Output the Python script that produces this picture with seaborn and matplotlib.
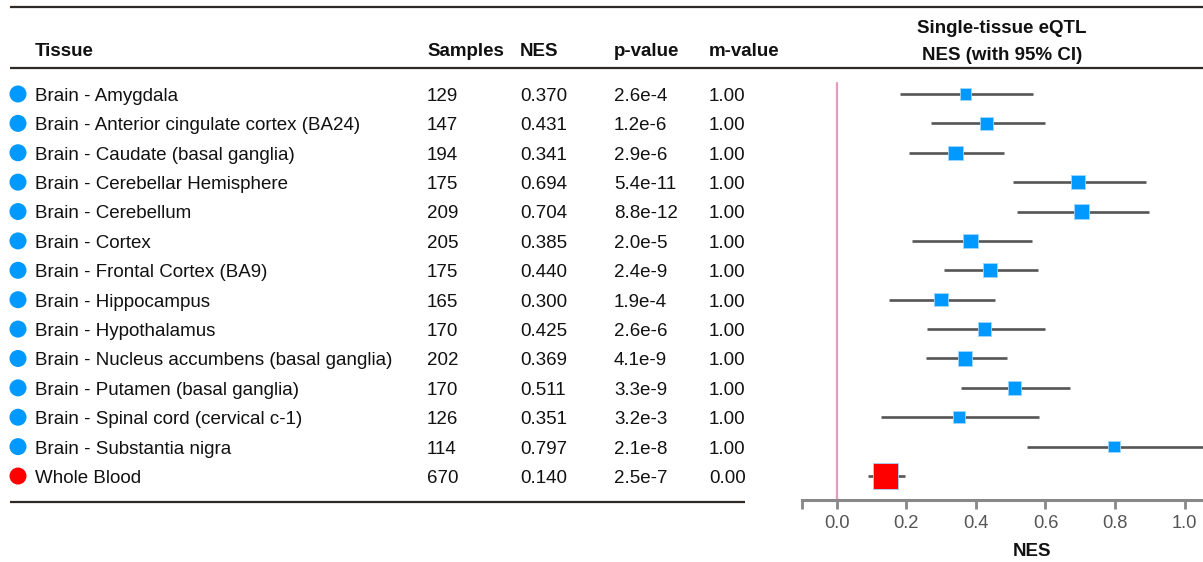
import pandas as pd
import seaborn as sns
import matplotlib.pyplot as plt

tissues = [
    "Brain - Amygdala",
    "Brain - Anterior cingulate cortex (BA24)",
    "Brain - Caudate (basal ganglia)",
    "Brain - Cerebellar Hemisphere",
    "Brain - Cerebellum",
    "Brain - Cortex",
    "Brain - Frontal Cortex (BA9)",
    "Brain - Hippocampus",
    "Brain - Hypothalamus",
    "Brain - Nucleus accumbens (basal ganglia)",
    "Brain - Putamen (basal ganglia)",
    "Brain - Spinal cord (cervical c-1)",
    "Brain - Substantia nigra",
    "Whole Blood",
]
samples = [129, 147, 194, 175, 209, 205, 175, 165, 170, 202, 170, 126, 114, 670]
nes = [0.370, 0.431, 0.341, 0.694, 0.704, 0.385, 0.440, 0.300, 0.425, 0.369, 0.511, 0.351, 0.797, 0.140]
pvals = ["2.6e-4", "1.2e-6", "2.9e-6", "5.4e-11", "8.8e-12", "2.0e-5", "2.4e-9",
         "1.9e-4", "2.6e-6", "4.1e-9", "3.3e-9", "3.2e-3", "2.1e-8", "2.5e-7"]
mvals = [1.00] * 13 + [0.00]
ci_lo = [0.181, 0.270, 0.208, 0.507, 0.519, 0.216, 0.309, 0.150, 0.260, 0.257, 0.357, 0.127, 0.547, 0.091]
ci_hi = [0.565, 0.600, 0.482, 0.888, 0.897, 0.560, 0.579, 0.456, 0.598, 0.489, 0.672, 0.582, 1.060, 0.196]
groups = ["Brain"] * 13 + ["Blood"]
xticks = [0.0, 0.2, 0.4, 0.6, 0.8, 1.0]

palette = {"Brain": "#0099FF", "Blood": "#FF0000"}

df = pd.DataFrame({
    "tissue": tissues, "samples": samples, "nes": nes, "p": pvals, "m": mvals,
    "lo": ci_lo, "hi": ci_hi, "group": groups,
})
df["row"] = range(len(df))

sns.set_style("white")
plt.rcParams["font.family"] = ["Liberation Sans", "DejaVu Sans"]
plt.rcParams["text.color"] = "#111111"

W, H = 1203, 562
fig = plt.figure(figsize=(W / 100, H / 100), dpi=100)

# pixel-space overlay for rules and headers
over = fig.add_axes([0, 0, 1, 1])
over.set_xlim(0, W)
over.set_ylim(H, 0)
over.axis("off")
over.set_facecolor("none")
rule = "#2d2926"
over.hlines([7, 68], 10, W, color=rule, lw=1.6)
over.hlines(502, 10, 745, color=rule, lw=1.6)
fs = 13.5
for x, lab in [(35, "Tissue"), (427, "Samples"), (520, "NES"), (614, "p-value"), (709, "m-value")]:
    over.text(x, 55.7, lab, fontsize=fs, weight="bold", va="baseline", ha="left")
over.text(1002, 33.3, "Single-tissue eQTL", fontsize=fs, weight="bold", va="baseline", ha="center")
over.text(1002, 60, "NES (with 95% CI)", fontsize=fs, weight="bold", va="baseline", ha="center")

# forest plot
ax = fig.add_axes([802 / W, 1 - 500 / H, 401 / W, 432 / H])
ax.set_facecolor("none")
ax.axvline(0, ymin=0, ymax=(500 - 83) / 432, color="#E899BE", lw=1.6, zorder=1)
ax.hlines(df["row"], df["lo"], df["hi"], color="#555555", lw=1.9, zorder=2)
sns.scatterplot(data=df, x="nes", y="row", hue="group", palette=palette,
                size="samples", sizes=(66, 345), size_norm=(114, 670),
                marker="s", linewidth=0.6, edgecolor="#9fd6ff",
                legend=False, ax=ax, zorder=3)
ax.set_xlim(-0.1, 1.053)
ax.set_ylim(13.816, -0.884)
ax.set_yticks([])
ax.set_ylabel("")
for s in ["top", "left", "right"]:
    ax.spines[s].set_visible(False)
ax.spines["bottom"].set_color("#888888")
ax.spines["bottom"].set_linewidth(2.2)
ax.set_xticks(xticks)
ax.set_xticklabels([f"{t:.1f}" for t in xticks])
ax.set_xticks([-0.1], minor=True)
ax.tick_params(axis="x", which="both", direction="out", length=6.5, width=2,
               color="#888888", bottom=True)
ax.tick_params(axis="x", labelsize=13.2, labelcolor="#555555", pad=4)
ax.set_xlabel("NES", fontsize=fs, weight="bold", color="#111111")
ax.xaxis.set_label_coords((1032 - 802) / 401, -56 / 432)
ax.xaxis.label.set_va("baseline")

# table rows
tab = fig.add_axes([0, 1 - 500 / H, 802 / W, 432 / H], sharey=ax)
tab.set_facecolor("none")
sns.scatterplot(x=[18] * len(df), y=df["row"], hue=df["group"], palette=palette,
                s=150, marker="o", linewidth=0, legend=False, ax=tab)
tab.set_xlim(0, 802)
tab.axis("off")
off = 0.235  # baseline sits a little below row centre
for _, r in df.iterrows():
    y = r["row"] + off
    tab.text(35, y, r["tissue"], fontsize=fs, va="baseline")
    tab.text(427, y, str(r["samples"]), fontsize=fs, va="baseline")
    tab.text(520, y, f"{r['nes']:.3f}", fontsize=fs, va="baseline")
    tab.text(614, y, r["p"], fontsize=fs, va="baseline")
    tab.text(709, y, f"{r['m']:.2f}", fontsize=fs, va="baseline")
ax.set_ylim(13.816, -0.884)

fig.savefig("out.png", dpi=100)
